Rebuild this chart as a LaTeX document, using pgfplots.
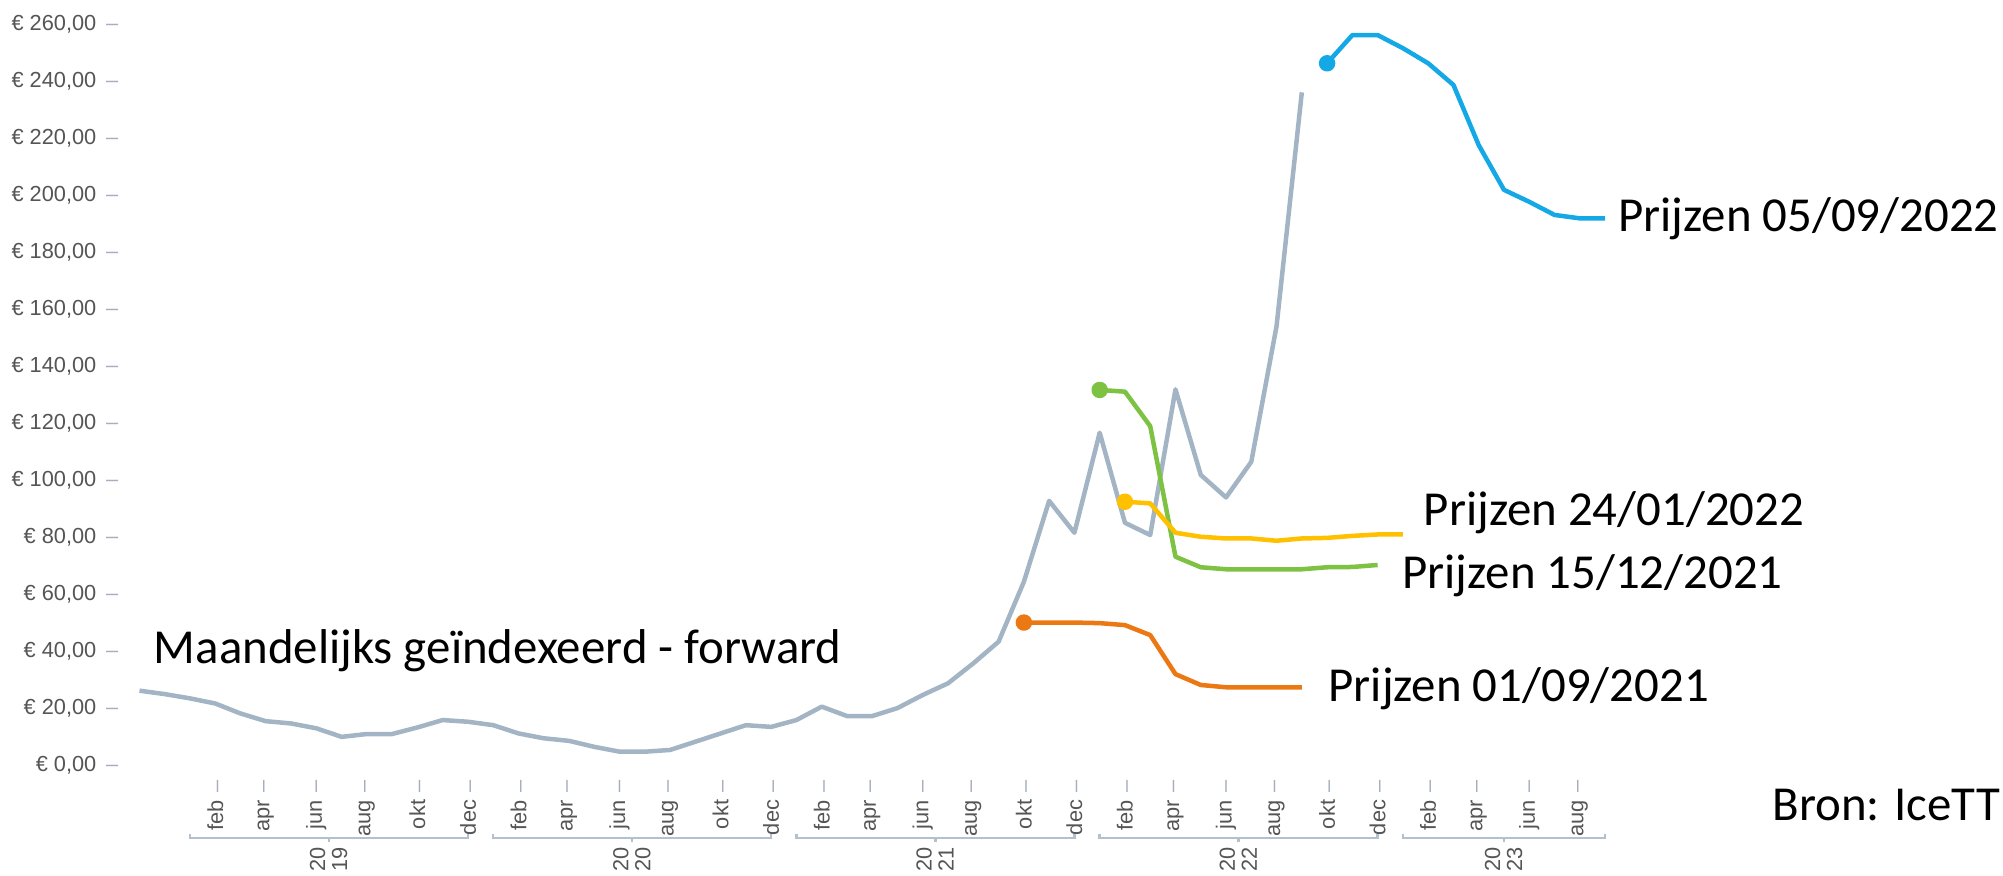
\documentclass[border=0pt]{standalone}
\usepackage{fontspec}
\setmainfont{Carlito}
\newfontfamily\tickfont{Liberation Sans}
\usepackage{pgfplots}
\pgfplotsset{compat=1.18}

\definecolor{histgray}{RGB}{163,180,196}
\definecolor{pblue}{RGB}{20,168,230}
\definecolor{pgreen}{RGB}{125,194,66}
\definecolor{pyellow}{RGB}{255,192,0}
\definecolor{porange}{RGB}{236,120,20}
\definecolor{tickgray}{RGB}{85,85,85}
\definecolor{dashgray}{RGB}{165,175,190}
\definecolor{bracket}{RGB}{180,192,204}

\newcommand{\yl}[1]{#1\hspace{2.8pt}{\color{dashgray}–}}
\newcommand{\ml}[1]{#1\hspace{2pt}{\color{dashgray}–}}

% x = months since jan 2019
\begin{document}
\begin{tikzpicture}
\begin{axis}[
  scale only axis,
  width=150.9mm,
  height=74.1mm,
  xmin=-2.73, xmax=57,
  ymin=0, ymax=260,
  axis line style={draw=none},
  tick style={draw=none},
  ytick={0,20,...,260},
  yticklabels={\yl{€ 0,00},\yl{€ 20,00},\yl{€ 40,00},\yl{€ 60,00},\yl{€ 80,00},
    \yl{€ 100,00},\yl{€ 120,00},\yl{€ 140,00},\yl{€ 160,00},\yl{€ 180,00},
    \yl{€ 200,00},\yl{€ 220,00},\yl{€ 240,00},\yl{€ 260,00}},
  yticklabel style={font=\tickfont\fontsize{6.2}{6.6}\selectfont, text=tickgray,
    anchor=east, inner sep=0pt, xshift=-0.2mm},
  xtick={1,3,...,55},
  xticklabels={\ml{feb},\ml{apr},\ml{jun},\ml{aug},\ml{okt},\ml{dec},
    \ml{feb},\ml{apr},\ml{jun},\ml{aug},\ml{okt},\ml{dec},
    \ml{feb},\ml{apr},\ml{jun},\ml{aug},\ml{okt},\ml{dec},
    \ml{feb},\ml{apr},\ml{jun},\ml{aug},\ml{okt},\ml{dec},
    \ml{feb},\ml{apr},\ml{jun},\ml{aug}},
  xticklabel style={font=\tickfont\fontsize{6.2}{6.5}\selectfont, text=tickgray,
    yshift=-1.5mm, rotate=90, anchor=east, inner sep=0pt},
  every axis plot/.append style={line width=0.45mm, line join=round},
  clip=false,
]
% historical monthly index
\addplot[histgray] coordinates {
  (-2,26.1) (-1,24.9) (0,23.4) (1,21.6) (2,18.1) (3,15.4) (4,14.6) (5,12.9)
  (6,9.9) (7,10.9) (8,10.9) (9,13.2) (10,15.8) (11,15.2) (12,14.0) (13,11.1)
  (14,9.4) (15,8.5) (16,6.4) (17,4.7) (18,4.7) (19,5.3) (20,8.2) (21,11.1)
  (22,14.0) (23,13.4) (24,15.8) (25,20.5) (26,17.2) (27,17.2) (28,20.0)
  (29,24.6) (30,28.7) (31,35.7) (32,43.3) (33,64.3) (34,92.7) (35,81.5)
  (36,116.6) (37,85.0) (38,80.7) (39,131.8) (40,101.8) (41,93.9) (42,106.4)
  (43,154) (44,236)};
% forward curves
\addplot[porange, mark=*, mark indices={1}, mark size=1.7pt,
  mark options={draw=none, fill=porange}] coordinates {
  (33,50) (34,50) (35,50) (36,49.8) (37,49.1) (38,45.6) (39,31.9) (40,28.1)
  (41,27.3) (42,27.3) (43,27.3) (44,27.3)};
\addplot[pgreen, mark=*, mark indices={1}, mark size=1.7pt,
  mark options={draw=none, fill=pgreen}] coordinates {
  (36,131.6) (37,131.0) (38,118.9) (39,73.1) (40,69.4) (41,68.7) (42,68.7)
  (43,68.7) (44,68.7) (45,69.4) (46,69.5) (47,70.2)};
\addplot[pyellow, mark=*, mark indices={1}, mark size=1.7pt,
  mark options={draw=none, fill=pyellow}] coordinates {
  (37,92.4) (38,91.8) (39,81.5) (40,80.1) (41,79.5) (42,79.5) (43,78.7)
  (44,79.5) (45,79.7) (46,80.4) (47,80.9) (48,80.9)};
\addplot[pblue, mark=*, mark indices={1}, mark size=1.7pt,
  mark options={draw=none, fill=pblue}] coordinates {
  (45,246.2) (46,256.1) (47,256.1) (48,251.5) (49,246.2) (50,238.6)
  (51,217.5) (52,201.8) (53,197.6) (54,193) (55,191.8) (56,191.8)};

% year brackets, year written as two rotated halves side by side
\foreach \a/\b/\zz in {0/11/19, 12/23/20, 24/35/21, 36/47/22, 48/56/23} {
  \edef\tmp{\noexpand\draw[bracket, line width=0.25mm]
    (axis cs:\a,-24.2) -- (axis cs:\a,-25.6) -- (axis cs:\b,-25.6) -- (axis cs:\b,-24.2);}
  \tmp
  \pgfmathsetmacro{\mid}{(\a+\b)/2}
  \pgfmathsetmacro{\lft}{\mid-0.45}
  \pgfmathsetmacro{\rgt}{\mid+0.42}
  \edef\tmp{\noexpand\draw[bracket, line width=0.25mm]
    (axis cs:\mid,-25.6) -- (axis cs:\mid,-27.0);
    \noexpand\node[rotate=90, inner sep=0pt, text=tickgray,
      font=\noexpand\tickfont\noexpand\fontsize{6.2}{7}\noexpand\selectfont]
      at (axis cs:\lft,-33.0) {20};
    \noexpand\node[rotate=90, inner sep=0pt, text=tickgray,
      font=\noexpand\tickfont\noexpand\fontsize{6.2}{7}\noexpand\selectfont]
      at (axis cs:\rgt,-33.0) {\zz};}
  \tmp
}

% annotations
\begin{scope}[every node/.style={anchor=base west, inner sep=0pt,
    font=\fontsize{13.9}{15}\selectfont}]
\node at (axis cs:-1.46,35.8) {Maandelijks geïndexeerd - forward};
\node at (axis cs:45.03,22.2) {Prijzen 01/09/2021};
\node at (axis cs:47.95,62.1) {Prijzen 15/12/2021};
\node at (axis cs:48.8,84.2) {Prijzen 24/01/2022};
\node at (axis cs:56.5,187.1) {Prijzen 05/09/2022};
\node at (axis cs:62.6,-19.3) {Bron: IceTT};
\end{scope}

\coordinate (bl) at (axis cs:-7.52,-38.6);
\coordinate (tr) at (axis cs:71.75,268.4);
\end{axis}
\pgfresetboundingbox
\path[use as bounding box] (bl) rectangle (tr);
\end{tikzpicture}
\end{document}
